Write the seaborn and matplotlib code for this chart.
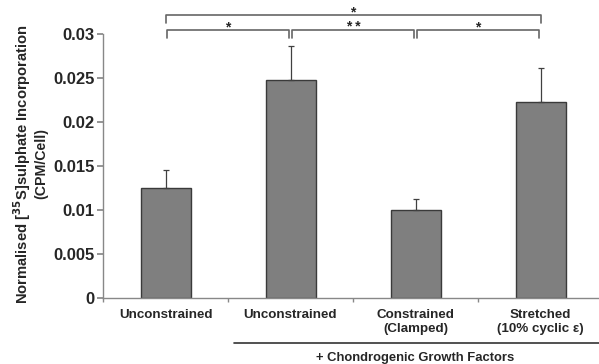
import matplotlib
matplotlib.use('Agg')
import matplotlib.pyplot as plt
import seaborn as sns
import pandas as pd

# values
groups = ['Unconstrained', 'Unconstrained', 'Constrained\n(Clamped)', 'Stretched\n(10% cyclic ε)']
means = [0.0125, 0.0248, 0.0100, 0.0223]
errors = [0.0021, 0.0038, 0.0012, 0.0038]
pairs = [(0, 1, '*'), (1, 2, '**'), (2, 3, '*')]
outer_pair = (0, 3, '*')

sns.set_theme(style='white')
plt.rcParams['font.family'] = ['Liberation Sans', 'DejaVu Sans']
plt.rcParams['font.weight'] = 'bold'

df = pd.DataFrame({'pos': range(len(means)), 'value': means})

fig = plt.figure(figsize=(5.99, 3.64), dpi=100)
ax = fig.add_axes([103 / 599, 66 / 364, 496 / 599, 264 / 364])

sns.barplot(data=df, x='pos', y='value', color='#7f7f7f', edgecolor='#3a3a3a',
            linewidth=1.0, width=0.4, saturation=1, ax=ax)
ax.errorbar(df['pos'], means, yerr=[[0] * len(errors), errors], fmt='none',
            ecolor='#404040', elinewidth=0.9, capsize=2, capthick=0.9)

ax.set_ylim(0, 0.03)
ax.set_xlim(-0.5, 496 / 125 - 0.5)
ax.set_yticks([0, 0.005, 0.01, 0.015, 0.02, 0.025, 0.03])
ax.set_yticklabels(['0', '0.005', '0.01', '0.015', '0.02', '0.025', '0.03'], fontsize=12, fontweight='bold')
ax.set_xticks([])
ax.set_xticks([-0.5, 0.5, 1.5, 2.5], minor=True)
ax.tick_params(axis='x', which='minor', length=3, color='#888888', direction='out', bottom=True)
ax.tick_params(axis='y', length=4, color='#888888', direction='out', left=True, pad=2)
for s in ['top', 'right']:
    ax.spines[s].set_visible(False)
for s in ['left', 'bottom']:
    ax.spines[s].set_color('#888888')
    ax.spines[s].set_linewidth(1.0)
ax.set_xlabel('')
ax.set_ylabel('')

for i, g in enumerate(groups):
    ax.text(i, -0.0012, g, ha='center', va='top', fontsize=9.6, fontweight='bold',
            linespacing=1.25)

# y label (two lines)
fig.text(22 / 599, 1 - 164 / 364, 'Normalised [$^{35}$S]sulphate Incorporation',
         rotation=90, ha='center', va='center', fontsize=10.6, fontweight='bold')
fig.text(41 / 599, 1 - 164 / 364, '(CPM/Cell)', rotation=90, ha='center', va='center',
         fontsize=10.2, fontweight='bold')

# growth factor group line
ax.plot([0.55, 3.95], [-0.0051, -0.0051], color='#333333', lw=1.2, clip_on=False)
ax.text(2.0, -0.0061, '+ Chondrogenic Growth Factors', ha='center', va='top',
        fontsize=9.4, fontweight='bold')

# significance brackets
bc = '#666666'
for a, b, lab in pairs:
    x0, x1 = a + 0.01, b - 0.01
    ax.plot([x0, x0, x1, x1], [0.02955, 0.03045, 0.03045, 0.02955], color=bc, lw=1.2, clip_on=False)
    ax.text((a + b) / 2, 0.03075, lab.replace('**', '* *'), ha='center', va='center',
            fontsize=10, fontweight='bold')
a, b, lab = outer_pair
ax.plot([a, a, b, b], [0.03125, 0.03216, 0.03216, 0.03125], color=bc, lw=1.2, clip_on=False)
ax.text((a + b) / 2, 0.0325, lab, ha='center', va='center', fontsize=10, fontweight='bold')

fig.savefig('out.png', dpi=100)
